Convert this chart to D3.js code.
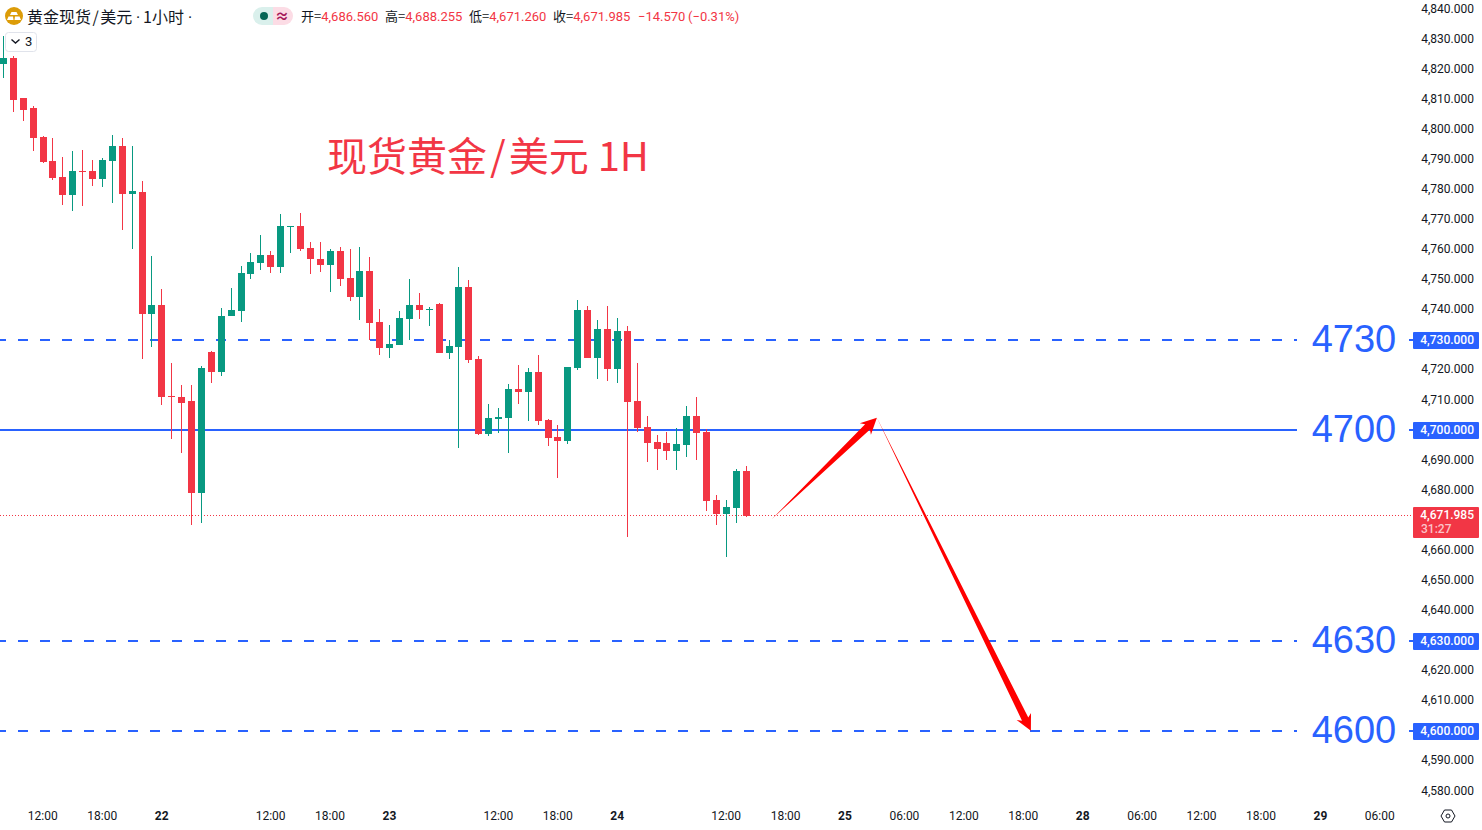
<!DOCTYPE html>
<html>
<head>
<meta charset="utf-8">
<script src="https://cdn.jsdelivr.net/npm/d3@7"></script>
<style>
  html, body { margin: 0; padding: 0; background: #fff; overflow: hidden; }
  svg { display: block; }
  text { font-family: "Noto Sans CJK SC", Roboto, sans-serif; }
  .axis text { font-family: Roboto, sans-serif; font-size: 12px; fill: #131722; }
</style>
</head>
<body>
<div class="chart"></div>
<script>
// hourly candles
const opens = [4821.4,4823.4,4810.1,4806.8,4797.2,4789.2,4783.9,4777.9,4785.9,4785.9,4783.2,4789.2,4794.2,4778.3,4778.9,4738.4,4741.4,4711.2,4710.8,4709.5,4679.0,4725.8,4719.1,4737.7,4739.4,4751.7,4755.3,4758.0,4754.0,4767.3,4767.6,4760.3,4756.6,4754.7,4759.3,4750.3,4744.0,4752.7,4735.7,4727.1,4728.1,4736.7,4741.4,4739.7,4741.7,4725.4,4727.4,4747.4,4723.4,4698.5,4703.5,4703.9,4713.5,4712.5,4719.1,4703.2,4697.5,4696.2,4720.5,4739.7,4723.8,4733.4,4720.1,4732.8,4709.5,4700.9,4695.9,4695.6,4692.9,4694.9,4704.5,4699.2,4676.6,4672.0,4674.0,4686.3];
const highs = [4830.7,4824.1,4810.1,4807.5,4797.5,4796.8,4790.5,4792.5,4792.9,4789.5,4790.2,4797.8,4796.8,4794.2,4782.6,4757.6,4746.7,4722.1,4714.8,4714.8,4721.1,4726.1,4740.4,4747.0,4754.3,4758.7,4764.6,4759.3,4771.6,4767.6,4771.9,4762.3,4762.3,4760.0,4760.6,4760.0,4760.6,4757.3,4740.0,4734.7,4739.4,4750.0,4745.4,4740.7,4742.0,4729.8,4754.0,4749.7,4724.4,4708.5,4707.2,4715.1,4721.5,4720.5,4724.8,4703.5,4701.5,4720.8,4743.0,4741.0,4736.4,4741.0,4737.1,4734.4,4722.1,4704.5,4698.2,4699.2,4700.5,4707.8,4710.8,4700.2,4678.3,4676.6,4686.9,4687.9];
const lows = [4816.8,4805.5,4802.5,4792.5,4788.5,4782.9,4774.6,4772.6,4774.3,4780.9,4780.6,4775.3,4766.3,4760.0,4723.4,4727.4,4708.2,4696.9,4692.2,4668.3,4669.0,4715.5,4717.8,4737.7,4735.7,4750.0,4753.0,4752.0,4752.0,4758.7,4759.3,4751.7,4752.3,4745.7,4747.7,4742.7,4736.4,4729.8,4724.8,4723.8,4728.1,4729.8,4736.7,4734.4,4725.4,4723.4,4693.9,4722.1,4698.2,4697.9,4698.9,4692.2,4708.5,4702.9,4701.5,4694.6,4683.9,4695.2,4719.8,4723.8,4716.8,4716.1,4715.5,4664.3,4699.2,4689.3,4686.6,4689.9,4686.6,4690.9,4689.9,4673.0,4668.3,4657.7,4669.0,4671.0];
const closes = [4823.4,4809.5,4806.1,4796.8,4788.9,4783.6,4777.9,4785.9,4785.5,4783.2,4789.5,4794.2,4778.3,4779.2,4738.4,4741.4,4710.8,4710.8,4708.8,4679.0,4720.5,4719.1,4737.7,4739.7,4752.0,4755.7,4758.0,4754.0,4767.6,4767.6,4760.0,4756.6,4754.7,4759.3,4750.0,4744.0,4752.7,4735.4,4727.1,4728.4,4737.1,4741.4,4739.7,4740.0,4725.4,4727.8,4747.4,4723.1,4698.5,4703.9,4704.2,4713.5,4712.5,4719.1,4702.9,4697.2,4696.2,4720.8,4739.7,4723.8,4733.4,4720.1,4732.8,4709.2,4700.5,4695.6,4693.6,4692.9,4695.2,4704.5,4698.9,4676.3,4672.0,4674.3,4686.3,4671.3];

// 4730, 4700, 4670, 4630 and 4600 are under the tags
const priceTicks = [4840,4830,4820,4810,4800,4790,4780,4770,4760,4750,4740,4720,4710,4690,4680,4660,4650,4640,4620,4610,4590,4580];
const timeTicks = [4,10,16,27,33,39,50,56,62,73,79,85,91,97,103,109,115,121,127,133,139];
const timeLabels = ["12:00","18:00","22","12:00","18:00","23","12:00","18:00","24","12:00","18:00","25","06:00","12:00","18:00","28","06:00","12:00","18:00","29","06:00"];

const dashedLevels = [4730, 4630, 4600];
const solidLevels = [4700];
const levelLabels = [4730, 4700, 4630, 4600];

// header text values
const ohlcNames = ["开=", "高=", "低=", "收="];
const ohlcVals = [4686.56, 4688.255, 4671.26, 4671.985];
const lastLabel = 4671.985;
const lastDrawn = 4671.3; // the line and tag sit a little under the printed price

// arrows as [bar index, price]
const arrowFrom = [[77.6, 4670.3], [88.2, 4703.9]];
const arrowTo = [[88.2, 4703.9], [103.75, 4600]];

const upColor = "#089981", downColor = "#f23645", blue = "#2962ff";
const width = 1482, height = 830;
const candles = opens.map((o, i) => ({ i, o, h: highs[i], l: lows[i], c: closes[i] }));

const x = d3.scaleLinear().domain([4, 139]).range([43, 1380]);
const y = d3.scaleLinear().domain([4580, 4840]).range([791, 9]);
// candle values were read against this one
const yc = d3.scaleLinear().domain([4580, 4840]).range([791, 8]);
const fmt = d3.format(",.3f");

const svg = d3.select(".chart").append("svg").attr("width", width).attr("height", height);

// horizontal levels
svg.append("g").selectAll("line").data(dashedLevels.concat(solidLevels)).enter().append("line")
  .attr("x1", 0)
  .attr("x2", 1413)
  .attr("y1", (d) => Math.round(y(d)))
  .attr("y2", (d) => Math.round(y(d)))
  .attr("stroke", blue)
  .attr("stroke-width", 2)
  .attr("stroke-dasharray", (d) => (solidLevels.includes(d) ? null : "10 12"))
  .attr("stroke-dashoffset", 4);

// current price
const lastY = Math.round(yc(lastDrawn));
svg.append("line")
  .attr("x1", 0).attr("x2", 1413)
  .attr("y1", lastY - 0.5).attr("y2", lastY - 0.5)
  .attr("stroke", downColor)
  .attr("stroke-width", 1)
  .attr("stroke-dasharray", "1 2");

// candles
const bars = svg.append("g").selectAll("g").data(candles).enter().append("g")
  .attr("fill", (d) => (d.c >= d.o ? upColor : downColor));
bars.append("rect")
  .attr("x", (d) => Math.floor(x(d.i)))
  .attr("width", 1)
  .attr("y", (d) => Math.round(yc(d.h)))
  .attr("height", (d) => Math.round(yc(d.l)) - Math.round(yc(d.h)));
bars.append("rect")
  .attr("x", (d) => Math.floor(x(d.i)) - 3)
  .attr("width", 7)
  .attr("y", (d) => Math.round(yc(Math.max(d.o, d.c))))
  .attr("height", (d) => Math.max(1, Math.round(yc(Math.min(d.o, d.c))) - Math.round(yc(Math.max(d.o, d.c)))));

// level numbers sit on a white box that cuts the line
svg.append("g").selectAll("rect").data(levelLabels).enter().append("rect")
  .attr("x", 1297).attr("width", 112)
  .attr("y", (d) => y(d) - 22).attr("height", 44)
  .attr("fill", "#fff");
svg.append("g").selectAll("text").data(levelLabels).enter().append("text")
  .attr("x", 1354)
  .attr("y", (d) => Math.round(y(d)) + 12)
  .attr("text-anchor", "middle")
  .style("font-family", "'Liberation Sans', sans-serif")
  .style("font-size", "38px")
  .attr("fill", blue)
  .text((d) => d);

// arrows, tapering from nothing at the tail
const arrowPath = (from, to) => {
  const x0 = x(from[0]), y0 = yc(from[1]), x1 = x(to[0]), y1 = yc(to[1]);
  const len = Math.hypot(x1 - x0, y1 - y0);
  const ux = (x1 - x0) / len, uy = (y1 - y0) / len;
  const nx = -uy, ny = ux;
  const at = (back, off) => [x1 - ux * back + nx * off, y1 - uy * back + ny * off];
  return d3.line()([[x0, y0], at(13, 3.5), at(16, 8), [x1, y1], at(16, -8), at(13, -3.5)]) + "Z";
};
svg.append("g").selectAll("path").data(arrowFrom).enter().append("path")
  .attr("d", (d, i) => arrowPath(d, arrowTo[i]))
  .attr("fill", "#ff0000");

// title on the chart
const title = svg.append("text")
  .attr("x", 327).attr("y", 171)
  .style("font-size", "40px")
  .attr("fill", downColor);
title.append("tspan").text("现货黄金");
title.append("tspan").attr("dx", 3).text("/");
title.append("tspan").attr("dx", 3).text("美元 1H");

// price axis
const yAxis = svg.append("g").attr("class", "axis")
  .attr("transform", "translate(1474,0)")
  .call(d3.axisLeft(y).tickValues(priceTicks).tickSize(0).tickPadding(0).tickFormat(fmt));
yAxis.select(".domain").remove();
yAxis.selectAll(".tick").attr("transform", (d) => "translate(0," + Math.floor(y(d)) + ")");
yAxis.selectAll("text").attr("dy", 4);

// price tags
const tags = svg.append("g").selectAll("g").data(levelLabels).enter().append("g");
tags.append("rect")
  .attr("x", 1413).attr("width", 66)
  .attr("y", (d) => Math.round(y(d)) - 8).attr("height", 17)
  .attr("rx", 1)
  .attr("fill", blue);
tags.append("text")
  .attr("x", 1474)
  .attr("y", (d) => Math.round(y(d)) + 4)
  .attr("text-anchor", "end")
  .style("font-family", "Roboto, sans-serif")
  .style("font-size", "12px")
  .style("font-weight", 500)
  .attr("fill", "#fff")
  .text((d) => fmt(d));

svg.append("rect")
  .attr("x", 1413).attr("width", 66)
  .attr("y", lastY - 9).attr("height", 31)
  .attr("rx", 1)
  .attr("fill", downColor);
const lastTag = svg.append("text")
  .style("font-family", "Roboto, sans-serif")
  .style("font-size", "12px")
  .style("font-weight", 500);
lastTag.append("tspan")
  .attr("x", 1474).attr("y", lastY + 3)
  .attr("text-anchor", "end")
  .attr("fill", "#fff")
  .text(fmt(lastLabel));
lastTag.append("tspan")
  .attr("x", 1421).attr("y", lastY + 17)
  .attr("fill", "#fbc4c9")
  .text("31:27");

// time axis
const xAxis = svg.append("g").attr("class", "axis")
  .attr("transform", "translate(0,811)")
  .call(d3.axisBottom(x).tickValues(timeTicks).tickSize(0).tickPadding(0)
    .tickFormat((d, i) => timeLabels[i]));
xAxis.select(".domain").remove();
xAxis.selectAll("text")
  .attr("dx", -0.7)
  .style("font-weight", (d, i) => (timeLabels[i].length === 2 ? "bold" : "normal"));

// settings icon
const gear = svg.append("g").attr("transform", "translate(1448,816)")
  .attr("fill", "none").attr("stroke", "#131722");
gear.append("path").attr("d", "M-7,0L-3.5,-6L3.5,-6L7,0L3.5,6L-3.5,6Z");
gear.append("circle").attr("r", 2);

// header
const head = svg.append("g");
head.append("circle").attr("cx", 14).attr("cy", 16).attr("r", 9).attr("fill", "#dc9c08");
head.append("path").attr("d", "M11.5,12L16.5,12L18,15L10,15Z M7,20L8.5,16.5L13,16.5L13.5,20Z M14.5,20L15,16.5L19.5,16.5L21,20Z").attr("fill", "#fff");
const symbol = head.append("text")
  .attr("y", 23)
  .style("font-size", "16px")
  .attr("fill", "#131722");
symbol.append("tspan").attr("x", 27).text("黄金现货");
symbol.append("tspan").attr("dx", 1.5).text("/");
symbol.append("tspan").attr("dx", 1.5).text("美元");
symbol.append("tspan").attr("x", 136).style("font-family", "Roboto, sans-serif").text("·");
symbol.append("tspan").attr("x", 143).text("1小时");
symbol.append("tspan").attr("x", 188).style("font-family", "Roboto, sans-serif").text("·");

head.append("path").attr("d", "M273,7H262a9,9 0 0 0 0,18H273Z").attr("fill", "#daf0ec");
head.append("path").attr("d", "M273,7H284a9,9 0 0 1 0,18H273Z").attr("fill", "#fcdce5");
head.append("circle").attr("cx", 264).attr("cy", 16).attr("r", 4).attr("fill", "#056656");
head.append("text").attr("x", 282).attr("y", 20.5).attr("text-anchor", "middle")
  .style("font-size", "14px").style("font-weight", "bold").attr("fill", "#a5185a").text("≈");

const ohlcX = [301, 385, 469, 553];
ohlcNames.forEach((name, i) => {
  const t = head.append("text").attr("x", ohlcX[i]).attr("y", 21).style("font-size", "13px").attr("fill", "#131722");
  t.append("tspan").text(name);
  t.append("tspan").attr("fill", downColor).style("font-family", "Roboto, sans-serif").text(fmt(ohlcVals[i]));
});
head.append("text").attr("x", 638).attr("y", 21)
  .style("font-family", "Roboto, sans-serif").style("font-size", "13px")
  .attr("fill", downColor).text("−14.570");
head.append("text").attr("x", 688).attr("y", 21)
  .style("font-family", "Roboto, sans-serif").style("font-size", "13px")
  .attr("fill", downColor).text("(−0.31%)");

// collapsed indicators button
svg.append("rect").attr("x", 5.5).attr("y", 32.5).attr("width", 31).attr("height", 19).attr("rx", 3)
  .attr("fill", "#fff").attr("stroke", "#e0e3eb");
svg.append("path").attr("d", "M11.5,39.5L15.5,43L19.5,39.5").attr("fill", "none").attr("stroke", "#131722").attr("stroke-width", 1.4);
svg.append("text").attr("x", 25).attr("y", 46).style("font-family", "Roboto, sans-serif")
  .style("font-size", "13px").attr("fill", "#131722").text("3");
</script>
</body>
</html>
